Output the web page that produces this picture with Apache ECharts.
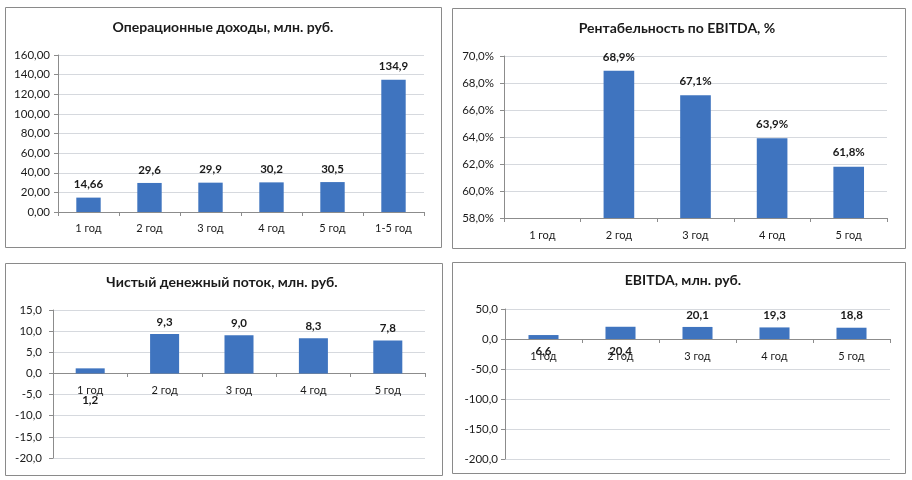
<!DOCTYPE html>
<html>
<head>
<meta charset="utf-8">
<script src="https://cdn.jsdelivr.net/npm/echarts@6/dist/echarts.min.js"></script>
<style>
html,body{margin:0;padding:0;background:#fff;}
#c{width:912px;height:480px;}
</style>
</head>
<body>
<div id="c"></div>
<script>
// ---- data ----
var titles = ['Операционные доходы, млн. руб.', 'Рентабельность по EBITDA, %', 'Чистый денежный поток, млн. руб.', 'EBITDA, млн. руб.'];
var cats1 = ['1 год', '2 год', '3 год', '4 год', '5 год', '1-5 год'];
var cats5 = ['1 год', '2 год', '3 год', '4 год', '5 год'];
var income = [14.66, 29.6, 29.9, 30.2, 30.5, 134.9];
var margin = [null, 68.9, 67.1, 63.9, 61.8];
var cashflow = [1.2, 9.3, 9.0, 8.3, 7.8];
var ebitda = [6.6, 20.4, 20.1, 19.3, 18.8];
// labels drawn beneath the axis (as in the reference)
var cashflowBelow = [true, false, false, false, false];
var ebitdaBelow = [true, true, false, false, false];

var FONT = 'Lato';
var BAR = '#3F74BF';
var TXT = '#1a1a1a';
var GRID = '#D6D9DE';
var AX = '#8C8C8C';

function comma(s){ return String(s).replace('.', ','); }

var grids = [
  {left:58, right:488, top:55, bottom:268},
  {left:504, right:25, top:56, bottom:262},
  {left:53, right:487, top:310, bottom:22},
  {left:505, right:22, top:309, bottom:21}
];
var yRanges = [[0,160,20],[58,70,2],[-20,15,5],[-200,50,50]];

// offset of the category axis so it (and its labels) sits on the value zero
function zeroOffset(i){
  var g = grids[i], r = yRanges[i];
  var h = 480 - g.top - g.bottom;
  if (r[0] >= 0) return 0;
  return -Math.round((0 - r[0]) / (r[1] - r[0]) * h);
}

var chart = echarts.init(document.getElementById('c'), null, {renderer:'canvas'});

function xAxis(idx, cats, margin){
  return {
    type:'category', gridIndex:idx, data:cats, position:'bottom', offset:zeroOffset(idx),
    axisLine:{show:true, onZero:false, lineStyle:{color:AX, width:1}},
    axisTick:{show:true, length:4, lineStyle:{color:AX}},
    axisLabel:{color:TXT, fontFamily:FONT, fontSize:11, margin:margin}
  };
}
function yAxis(idx, fmt, lm){
  var r = yRanges[idx];
  return {
    type:'value', gridIndex:idx, min:r[0], max:r[1], interval:r[2],
    axisLine:{show:true, lineStyle:{color:AX, width:1}},
    axisTick:{show:true, length:4, lineStyle:{color:AX}},
    splitLine:{show:true, lineStyle:{color:GRID, width:1}},
    axisLabel:{color:TXT, fontFamily:FONT, fontSize:11.5, margin:lm, formatter:fmt}
  };
}
var lblStyle = {show:true, position:'top', color:TXT, fontFamily:FONT, fontSize:11.5, fontWeight:'bold'};

function belowData(vals, below, dist){
  return vals.map(function(v, i){
    if (below[i]) return {value:v, label:{position:'bottom', distance:dist}};
    return v;
  });
}
var tStyle = {fontFamily:FONT, fontSize:14, fontWeight:'bold', color:TXT};

var option = {
  animation:false,
  backgroundColor:'#fff',
  graphic:[
    {type:'rect', shape:{x:5.5, y:7.5, width:436, height:240}, style:{fill:'none', stroke:'#8a8a8a', lineWidth:1}},
    {type:'rect', shape:{x:452.5, y:8.5, width:453, height:240}, style:{fill:'none', stroke:'#8a8a8a', lineWidth:1}},
    {type:'rect', shape:{x:5.5, y:263.5, width:437, height:212}, style:{fill:'none', stroke:'#8a8a8a', lineWidth:1}},
    {type:'rect', shape:{x:452.5, y:262.5, width:453, height:211}, style:{fill:'none', stroke:'#8a8a8a', lineWidth:1}}
  ],
  title:[
    {text:titles[0], left:223, top:20, textAlign:'center', padding:0, textStyle:tStyle},
    {text:titles[1], left:677, top:21, textAlign:'center', padding:0, textStyle:tStyle},
    {text:titles[2], left:222, top:275, textAlign:'center', padding:0, textStyle:tStyle},
    {text:titles[3], left:683, top:273, textAlign:'center', padding:0, textStyle:tStyle}
  ],
  grid:grids,
  xAxis:[
    xAxis(0, cats1, 11),
    xAxis(1, cats5, 12),
    xAxis(2, cats5, 12),
    xAxis(3, cats5, 12)
  ],
  yAxis:[
    yAxis(0, function(v){ return comma(v.toFixed(2)); }, 8),
    yAxis(1, function(v){ return comma(v.toFixed(1)) + '%'; }, 10),
    yAxis(2, function(v){ return comma(v.toFixed(1)); }, 11),
    yAxis(3, function(v){ return comma(v.toFixed(1)); }, 7)
  ],
  series:[
    {type:'bar', xAxisIndex:0, yAxisIndex:0, data:income, barWidth:'40%', itemStyle:{color:BAR},
     label:Object.assign({}, lblStyle, {distance:7, formatter:function(p){ return comma(p.value); }})},
    {type:'bar', xAxisIndex:1, yAxisIndex:1, data:margin, barWidth:'40%', itemStyle:{color:BAR},
     label:Object.assign({}, lblStyle, {distance:8, formatter:function(p){ return comma(p.value.toFixed(1)) + '%'; }})},
    {type:'bar', xAxisIndex:2, yAxisIndex:2, data:belowData(cashflow, cashflowBelow, 21), barWidth:'39%', itemStyle:{color:BAR},
     label:Object.assign({}, lblStyle, {distance:6, formatter:function(p){ return comma(p.value.toFixed(1)); }})},
    {type:'bar', xAxisIndex:3, yAxisIndex:3, data:belowData(ebitda, ebitdaBelow, 6), barWidth:'39%', itemStyle:{color:BAR},
     label:Object.assign({}, lblStyle, {distance:6, formatter:function(p){ return comma(p.value.toFixed(1)); }})}
  ]
};
chart.setOption(option);
</script>
</body>
</html>
